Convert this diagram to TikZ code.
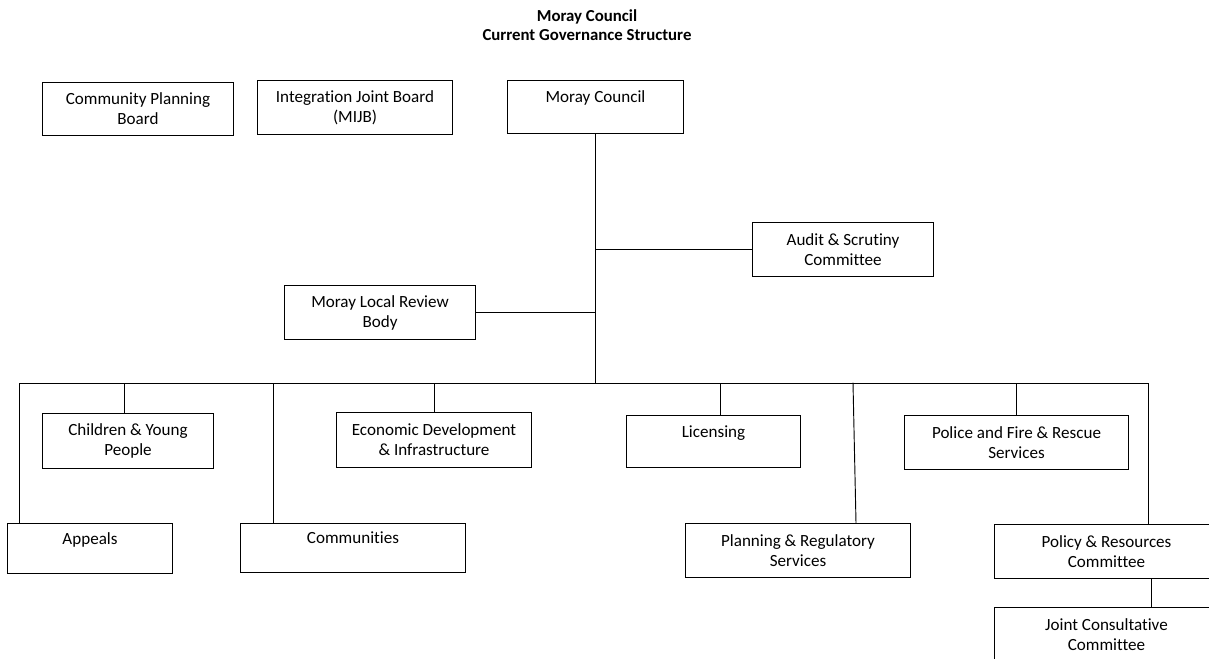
\documentclass[tikz,border=0pt]{standalone}
\usepackage{fontspec}
\setmainfont{Carlito}[Ligatures=NoCommon]
\usetikzlibrary{positioning}
\newdimen\pxu \pxu=0.75pt
\tikzset{
    box/.style={rectangle, draw, anchor=north west, align=center, inner sep=2pt, line width=0.75pt, font=\fontsize{12.8}{15}\selectfont},
    line/.style={draw, line width=0.7pt, line cap=rect},
    heading/.style={align=center, font=\fontsize{12.6}{14.25}\selectfont\bfseries}
}

\begin{document}
\begin{tikzpicture}[x=0.75pt, y=-0.75pt]
    \useasboundingbox (0,0) rectangle (1209,659);
    \clip (0,0) rectangle (1209,659);
    % Title
    \node[heading] (title) at (587,25) {Moray Council\\Current Governance Structure};
    % Top row
    \node[box, minimum width=191*\pxu, minimum height=53*\pxu] (cpb) at (42,82) {Community Planning\\Board};
    \node[box, minimum width=195*\pxu, minimum height=54*\pxu] (mijb) at (257,80) {Integration Joint Board\\(MIJB)};
    \node[box, minimum width=176*\pxu, minimum height=53*\pxu] (council) at (507,80) {Moray Council\\~};
    % Committees off the trunk
    \node[box, minimum width=181*\pxu, minimum height=54*\pxu] (audit) at (752,222) {Audit \& Scrutiny\\Committee};
    \node[box, minimum width=191*\pxu, minimum height=54*\pxu] (review) at (284,285) {Moray Local Review\\Body};
    % Upper row under the bus
    \node[box, minimum width=171*\pxu, minimum height=55*\pxu] (children) at (42,413) {Children \& Young\\People};
    \node[box, minimum width=195*\pxu, minimum height=55*\pxu] (econ) at (336,412) {Economic Development\\\& Infrastructure};
    \node[box, minimum width=174*\pxu, minimum height=52*\pxu] (lic) at (626,415) {Licensing\\~};
    \node[box, minimum width=224*\pxu, minimum height=54*\pxu] (police) at (904,415) {Police and Fire \& Rescue\\Services};
    % Lower row under the bus
    \node[box, minimum width=165*\pxu, minimum height=50*\pxu] (appeals) at (7,523) {Appeals\\~};
    \node[box, minimum width=225*\pxu, minimum height=49*\pxu] (comm) at (240,523) {Communities\\~};
    \node[box, minimum width=225*\pxu, minimum height=54*\pxu] (plan) at (685,523) {Planning \& Regulatory\\Services};
    \node[box, minimum width=224*\pxu, minimum height=54*\pxu] (policy) at (994,524) {Policy \& Resources\\Committee};
    \node[box, minimum width=224*\pxu, minimum height=54*\pxu] (joint) at (994,607) {Joint Consultative\\Committee};

    % Bus points
    \coordinate (hub) at (council.south |- 0,383);
    \coordinate (busL) at (19,383);
    \coordinate (busR) at (1148,383);
    \coordinate (dropC) at (273,383);
    \coordinate (dropP) at (853,383);

    \draw[line] (council.south) -- (hub);
    \draw[line] (busL) -- (busR);
    \draw[line] (audit.west) -- (audit.west -| hub);
    \draw[line] (review.east) -- (review.east -| hub);
    \draw[line] ([xshift=-4*\pxu]children.north) -- ([xshift=-4*\pxu]children.north |- hub);
    \draw[line] (econ.north) -- (econ.north |- hub);
    \draw[line] ([xshift=7*\pxu]lic.north) -- ([xshift=7*\pxu]lic.north |- hub);
    \draw[line] (police.north) -- (police.north |- hub);
    \draw[line] (busL) -- (busL |- appeals.north);
    \draw[line] (dropC) -- (dropC |- comm.north);
    \draw[line] (dropP) -- ([xshift=171*\pxu]plan.north west);
    \draw[line] (busR) -- (busR |- policy.north);
    \draw[line] ([xshift=45*\pxu]policy.south) -- ([xshift=45*\pxu]joint.north);
\end{tikzpicture}
\end{document}
